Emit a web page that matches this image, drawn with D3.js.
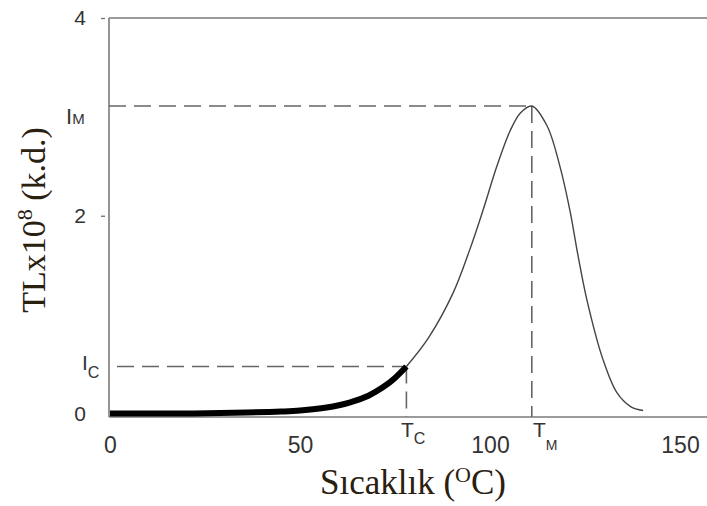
<!DOCTYPE html>
<html>
<head>
<meta charset="utf-8">
<script src="https://cdn.jsdelivr.net/npm/d3@7"></script>
<style>
  body { margin: 0; background: #fff; }
  svg { display: block; }
</style>
</head>
<body>
<svg id="canvas" width="707" height="506"></svg>
<script>
// glow curve (T in degC, TL in units of 1e8)
let temps = [0, 20, 36, 45, 50, 57, 63, 68, 72, 75, 78, 83.8, 90.3, 94.7, 98.2, 101.8, 105.3, 108, 111, 115, 118.4, 121, 123.2, 125.5, 129.7, 133.4, 137, 140.3]
let tl    = [0, 0, 0.01, 0.02, 0.03, 0.06, 0.11, 0.18, 0.27, 0.36, 0.475, 0.765, 1.22, 1.66, 2.06, 2.5, 2.86, 3.04, 3.11, 2.91, 2.5, 2.06, 1.59, 1.15, 0.55, 0.21, 0.07, 0.03]

let xTicks = [0, 50, 100, 150]
let yTicks = [0, 2, 4]

let Tc = 78, Ic = 0.475
let TM = 111, IM = 3.11

let svg = d3.select("#canvas")

let x = d3.scaleLinear().domain([0, 150]).range([110, 680])
let y = d3.scaleLinear().domain([0, 4]).range([413.5, 18])

let pLeft = 109, pTop = 18, pBottom = 417, pRight = 707
let frameColor = "#7a7a7a"

// frame
svg.append("line").attr("x1", pLeft).attr("x2", pLeft).attr("y1", pTop).attr("y2", pBottom)
  .attr("stroke", frameColor).attr("stroke-width", 1.6)
svg.append("line").attr("x1", pLeft).attr("x2", pRight).attr("y1", pTop).attr("y2", pTop)
  .attr("stroke", frameColor).attr("stroke-width", 1.6)
svg.append("line").attr("x1", pLeft).attr("x2", pRight).attr("y1", pBottom).attr("y2", pBottom)
  .attr("stroke", frameColor).attr("stroke-width", 1.6)

// axes
let xAxis = svg.append("g")
  .attr("transform", "translate(0," + pBottom + ")")
  .call(d3.axisBottom(x).tickValues(xTicks).tickSize(0).tickPadding(20))
xAxis.select(".domain").remove()
xAxis.selectAll("text")
  .attr("font-family", "Liberation Sans, Arial, sans-serif")
  .attr("font-size", 23).attr("fill", "#333")

let yAxis = svg.append("g")
  .attr("transform", "translate(105,0)")
  .call(d3.axisLeft(y).tickValues(yTicks).tickFormat(d3.format("d")).tickSize(4).tickPadding(15))
yAxis.select(".domain").remove()
yAxis.selectAll("line").attr("stroke", "#777").attr("stroke-width", 1.4)
  .filter(d => d === 0).remove()
yAxis.selectAll("text")
  .attr("font-family", "Liberation Sans, Arial, sans-serif")
  .attr("font-size", 21).attr("fill", "#333")

// dashed guides
let dash = "17,8"
let guides = [
  [pLeft, x(TM), y(IM), y(IM)],
  [x(TM), x(TM), y(IM), pBottom],
  [pLeft + 8, x(Tc), y(Ic), y(Ic)],
  [x(Tc), x(Tc), y(Ic), pBottom]
]
guides.forEach(g => {
  svg.append("line")
    .attr("x1", g[0]).attr("x2", g[1]).attr("y1", g[2]).attr("y2", g[3])
    .attr("stroke", "#666").attr("stroke-width", 1.6)
    .attr("stroke-dasharray", dash)
})

// curve
let pts = temps.map((t, i) => [t, tl[i]])
let line = d3.line().x(d => x(d[0])).y(d => y(d[1])).curve(d3.curveCatmullRom.alpha(0.5))

svg.append("path").datum(pts.filter(d => d[0] >= Tc))
  .attr("d", line).attr("fill", "none")
  .attr("stroke", "#444").attr("stroke-width", 1.4)

svg.append("path").datum(pts.filter(d => d[0] <= Tc))
  .attr("d", line).attr("fill", "none")
  .attr("stroke", "#000").attr("stroke-width", 6)

// marker labels
let sans = "Liberation Sans, Arial, sans-serif"
let im = svg.append("text").attr("x", 66).attr("y", 124).attr("font-family", sans).attr("fill", "#333")
im.append("tspan").attr("font-size", 22).text("I")
im.append("tspan").attr("font-size", 15).text("M")

let ic = svg.append("text").attr("x", 82).attr("y", 370).attr("font-family", sans).attr("fill", "#333")
ic.append("tspan").attr("font-size", 21).text("I")
ic.append("tspan").attr("font-size", 16).attr("dy", 8).text("C")

let tcL = svg.append("text").attr("x", 401).attr("y", 437).attr("font-family", sans).attr("fill", "#333")
tcL.append("tspan").attr("font-size", 21).text("T")
tcL.append("tspan").attr("font-size", 16).attr("dy", 7).text("C")

let tmL = svg.append("text").attr("x", 533).attr("y", 437).attr("font-family", sans).attr("fill", "#333")
tmL.append("tspan").attr("font-size", 21).text("T")
tmL.append("tspan").attr("font-size", 14).attr("dy", 13).text("M")

// titles
let serif = "Liberation Serif, Times New Roman, serif"
let xt = svg.append("text").attr("x", 413).attr("y", 494).attr("text-anchor", "middle")
  .attr("font-family", serif).attr("font-size", 35).attr("fill", "#2a2010")
xt.append("tspan").text("Sıcaklık (")
xt.append("tspan").attr("font-size", 22).attr("dy", -12).text("O")
xt.append("tspan").attr("dy", 12).text("C)")

let yt = svg.append("text").attr("transform", "translate(45,220) rotate(-90)")
  .attr("text-anchor", "middle")
  .attr("font-family", serif).attr("font-size", 34).attr("fill", "#2a2010")
yt.append("tspan").text("TLx10")
yt.append("tspan").attr("font-size", 22).attr("dy", -13).text("8")
yt.append("tspan").attr("dy", 13).text(" (k.d.)")
</script>
</body>
</html>
